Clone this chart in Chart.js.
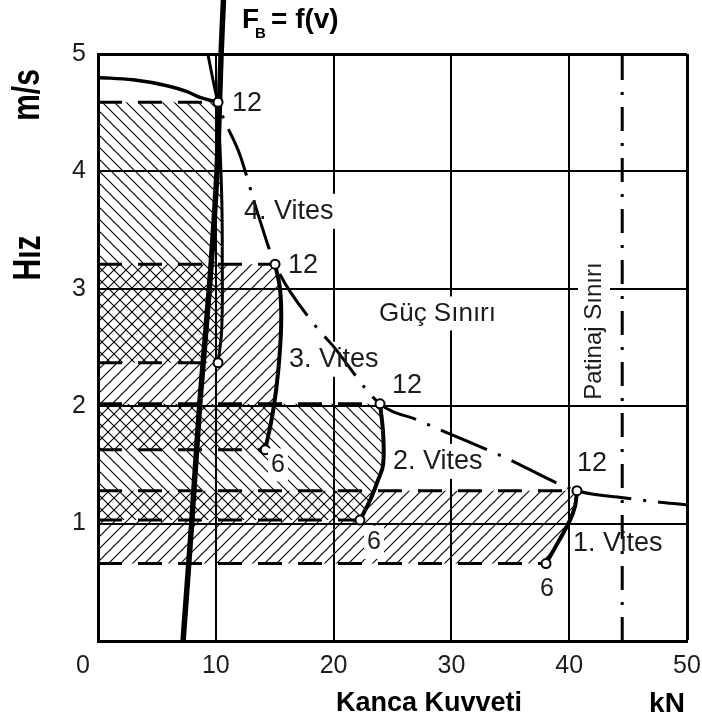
<!DOCTYPE html>
<html><head><meta charset="utf-8">
<script src="https://cdn.jsdelivr.net/npm/chart.js@4"></script>
<style>html,body{margin:0;padding:0;background:#fff;}#wrap{width:702px;height:728px;}</style>
</head><body><div id="wrap"><canvas id="c" width="702" height="728"></canvas></div>
<script>
// ---------- data (kN, m/s) ----------
const xTicks = [0, 10, 20, 30, 40, 50];
const yTicks = [0, 1, 2, 3, 4, 5];

// drawbar pull curve F_B = f(v)
const fbForce = [7.22, 7.95, 8.66, 9.45, 10.1, 10.45, 10.65];
const fbSpeed = [0, 1.0, 2.05, 3.0, 4.0, 5.0, 5.46];

// gear curves, from point "6" to point "12"
const gear1Force = [38.03, 39.05, 40.07, 40.5, 40.66];
const gear1Speed = [0.66, 0.84, 1.03, 1.15, 1.28];
const gear2Force = [22.24, 23.1, 23.77, 24.2, 24.2, 23.94];
const gear2Speed = [1.03, 1.20, 1.37, 1.50, 1.77, 2.02];
const gear3Force = [14.2, 14.85, 15.3, 15.55, 15.45, 15.03];
const gear3Speed = [1.63, 1.95, 2.3, 2.7, 3.0, 3.21];
const gear4Force = [10.19, 10.5, 10.55, 10.5, 10.19];
const gear4Speed = [2.37, 2.65, 3.2, 3.8, 4.59];

// top speed curve (left of 4th gear "12")
const topForce = [0, 2.97, 5.86, 7.56, 8.66, 9.76, 10.19];
const topSpeed = [4.80, 4.78, 4.73, 4.68, 4.63, 4.60, 4.59];

// power limit (Güç Sınırı)
const powerForce = [9.34, 10.19, 12.05, 13.6, 15.03, 18.25, 19.9, 23.94, 27.2, 29.5, 34.4, 40.66, 44.6, 47.9, 50];
const powerSpeed = [4.99, 4.59, 4.14, 3.63, 3.21, 2.71, 2.52, 2.02, 1.88, 1.78, 1.57, 1.28, 1.22, 1.18, 1.16];

// slip limit (Patinaj Sınırı)
const slipForce = [44.5, 44.5];
const slipSpeed = [0, 5];

// ---------- helpers ----------
const pts = (fx, sy) => fx.map((x, i) => ({x: x, y: sy[i]}));
function hatch(dir) {
  const s = 12, c = document.createElement('canvas');
  c.width = s; c.height = s;
  const g = c.getContext('2d');
  g.strokeStyle = '#000'; g.lineWidth = 1.1; g.beginPath();
  if (dir === '/') {
    g.moveTo(-2, s + 2); g.lineTo(s + 2, -2);
    g.moveTo(-2, 2); g.lineTo(2, -2);
    g.moveTo(s - 2, s + 2); g.lineTo(s + 2, s - 2);
  } else {
    g.moveTo(-2, -2); g.lineTo(s + 2, s + 2);
    g.moveTo(s - 2, -2); g.lineTo(s + 2, 2);
    g.moveTo(-2, s - 2); g.lineTo(2, s + 2);
  }
  g.stroke();
  return c.getContext('2d').createPattern(c, 'repeat');
}

const gears = [
  {f: gear1Force, s: gear1Speed, dir: '/'},
  {f: gear2Force, s: gear2Speed, dir: '\\'},
  {f: gear3Force, s: gear3Speed, dir: '/'},
  {f: gear4Force, s: gear4Speed, dir: '\\'}
];

const datasets = [];
// hatched regions
gears.forEach(g => {
  const n = g.s.length;
  datasets.push({
    data: [{x: 0, y: g.s[0]}].concat(pts(g.f, g.s), [{x: 0, y: g.s[n - 1]}]),
    showLine: true, fill: 'shape', backgroundColor: hatch(g.dir),
    borderWidth: 0, pointRadius: 0, tension: 0, order: 20
  });
});
// dashed horizontal lines at each "6" and "12" point
gears.forEach(g => {
  [0, g.s.length - 1].forEach(i => {
    datasets.push({
      data: [{x: 0, y: g.s[i]}, {x: g.f[i], y: g.s[i]}],
      showLine: true, borderColor: '#000', borderWidth: 3, borderDash: [24, 16],
      borderCapStyle: 'butt', pointRadius: 0, fill: false, order: 15
    });
  });
});
// power limit
datasets.push({data: pts(powerForce, powerSpeed), showLine: true, borderColor: '#000', borderWidth: 3,
  borderDash: [50, 12, 3, 12], cubicInterpolationMode: 'monotone', pointRadius: 0, fill: false, order: 12});
// slip limit
datasets.push({data: pts(slipForce, slipSpeed), showLine: true, borderColor: '#000', borderWidth: 3,
  borderDash: [24, 12, 3, 12], pointRadius: 0, fill: false, order: 12});
// top curve
datasets.push({data: pts(topForce, topSpeed), showLine: true, borderColor: '#000', borderWidth: 3.5,
  cubicInterpolationMode: 'monotone', pointRadius: 0, fill: false, order: 10});
// gear curves
gears.forEach((g, k) => {
  datasets.push({data: pts(g.f, g.s), showLine: true, borderColor: '#000', borderWidth: k === 3 ? 3 : 4,
    tension: 0.4, pointRadius: 0, fill: false, order: 8});
});
// F_B line
datasets.push({data: pts(fbForce, fbSpeed), showLine: true, borderColor: '#000', borderWidth: 5.5,
  tension: 0.3, pointRadius: 0, fill: false, clip: false, order: 5});
// end point markers
const markers = [];
gears.forEach(g => { markers.push({x: g.f[0], y: g.s[0]}); markers.push({x: g.f[g.f.length - 1], y: g.s[g.s.length - 1]}); });
datasets.push({data: markers, showLine: false, pointRadius: 4.5, pointBackgroundColor: '#fff',
  pointBorderColor: '#000', pointBorderWidth: 2, order: 1});

// ---------- annotations ----------
const TXT = '#1c1c1c';
const FONT = '"Liberation Sans", Arial, sans-serif';
const TICK_PAD = 10, TICK_SIZE = 25;
const labels = [
  {t: '12', x: 11.37, y: 4.58, size: 27},
  {t: '4. Vites', x: 12.39, y: 3.66, size: 27, box: 'before'},
  {t: '12', x: 16.13, y: 3.20, size: 27},
  {t: '3. Vites', x: 16.21, y: 2.40, size: 27, box: 'before'},
  {t: '6', x: 14.69, y: 1.50, size: 25, box: 'after'},
  {t: 'Güç Sınırı', x: 23.85, y: 2.79, size: 26, box: 'before'},
  {t: '12', x: 24.96, y: 2.18, size: 27},
  {t: '2. Vites', x: 25.04, y: 1.53, size: 27, box: 'before'},
  {t: '6', x: 22.84, y: 0.84, size: 25, box: 'after'},
  {t: '12', x: 40.66, y: 1.51, size: 27},
  {t: '1. Vites', x: 40.32, y: 0.83, size: 27, box: 'before'},
  {t: '6', x: 37.52, y: 0.44, size: 25},
  {t: 'Patinaj Sınırı', x: 42.1, y: 2.64, size: 24, box: 'before', rot: true, center: true}
];
function drawLabel(chart, L, phase) {
  const ctx = chart.ctx, xs = chart.scales.x, ys = chart.scales.y;
  const px = xs.getPixelForValue(L.x), py = ys.getPixelForValue(L.y);
  ctx.save();
  ctx.translate(px, py);
  if (L.rot) ctx.rotate(-Math.PI / 2);
  ctx.font = L.size + 'px ' + FONT;
  const w = ctx.measureText(L.t).width;
  const ax = L.center ? -w / 2 : 0;
  if (phase === 'box') {
    ctx.fillStyle = '#fff';
    ctx.fillRect(ax - 3, -L.size / 2 - 4, w + 6, L.size + 8);
  } else {
    ctx.fillStyle = TXT; ctx.textBaseline = 'middle'; ctx.textAlign = 'left';
    ctx.fillText(L.t, ax, 0);
  }
  ctx.restore();
}
const annot = {
  id: 'annot',
  beforeDatasetsDraw(chart) {
    labels.filter(L => L.box === 'before').forEach(L => drawLabel(chart, L, 'box'));
  },
  afterDatasetsDraw(chart) {
    labels.filter(L => L.box === 'after').forEach(L => drawLabel(chart, L, 'box'));
    labels.forEach(L => drawLabel(chart, L, 'text'));
  },
  afterDraw(chart) {
    const ctx = chart.ctx, xs = chart.scales.x;
    // origin label "0", placed like the other x tick labels but shifted left
    ctx.save();
    ctx.font = TICK_SIZE + 'px ' + FONT; ctx.fillStyle = TXT;
    ctx.textAlign = 'center'; ctx.textBaseline = 'middle';
    ctx.fillText(String(xTicks[0]), xs.getPixelForValue(xTicks[0]) - 15, xs.top + TICK_PAD + TICK_SIZE * 1.2 / 2);
    ctx.restore();
    // axis titles
    ctx.save();
    ctx.fillStyle = '#000'; ctx.textAlign = 'center'; ctx.textBaseline = 'middle';
    ctx.font = 'bold 27px ' + FONT;
    ctx.fillText('Kanca Kuvveti', 429, 704);
    ctx.font = 'bold 28px ' + FONT;
    ctx.fillText('kN', 667, 704);
    ctx.save(); ctx.translate(28, 95); ctx.rotate(-Math.PI / 2); ctx.scale(1, 1.3);
    ctx.font = 'bold 30px ' + FONT; ctx.fillText('m/s', 0, 0); ctx.restore();
    ctx.save(); ctx.translate(29, 258); ctx.rotate(-Math.PI / 2); ctx.scale(1, 1.3);
    ctx.font = 'bold 30px ' + FONT; ctx.fillText('Hız', 0, 0); ctx.restore();
    // F_B = f(v)
    ctx.textAlign = 'left'; ctx.textBaseline = 'alphabetic';
    ctx.font = 'bold 28px ' + FONT; ctx.fillText('F', 242, 28);
    ctx.font = 'bold 15px ' + FONT; ctx.fillText('B', 255, 38);
    ctx.font = 'bold 28px ' + FONT; ctx.fillText('= f(v)', 271, 28);
    ctx.restore();
  }
};

new Chart(document.getElementById('c'), {
  type: 'scatter',
  data: {datasets: datasets},
  plugins: [annot],
  options: {
    responsive: false, animation: false, devicePixelRatio: 1, events: [],
    layout: {padding: {top: 54, right: 15, left: 0, bottom: 0}},
    plugins: {legend: {display: false}, tooltip: {enabled: false}},
    scales: {
      x: {
        type: 'linear', min: 0, max: 50,
        afterBuildTicks: s => { s.ticks = xTicks.map(v => ({value: v})); },
        afterFit: s => { s.height = 87; s.paddingLeft = 0; s.paddingRight = 0; },
        grid: {color: '#000', lineWidth: c => (c.tick && c.tick.value === 50 ? 3 : 2), drawTicks: false},
        border: {color: '#000', width: 3},
        ticks: {padding: TICK_PAD, color: TXT, autoSkip: false, maxRotation: 0,
          font: {family: FONT, size: TICK_SIZE}, callback: v => (v === 0 ? '' : String(v))}
      },
      y: {
        type: 'linear', min: 0, max: 5,
        afterBuildTicks: s => { s.ticks = yTicks.map(v => ({value: v})); },
        afterFit: s => { s.width = 98; s.paddingTop = 0; s.paddingBottom = 0; },
        grid: {color: '#000', lineWidth: c => (c.tick && c.tick.value === 5 ? 3 : 2), drawTicks: false},
        border: {color: '#000', width: 3},
        ticks: {padding: 12, color: TXT, autoSkip: false,
          font: {family: FONT, size: TICK_SIZE}, callback: v => (v === 0 ? '' : String(v))}
      }
    }
  }
});
</script></body></html>
